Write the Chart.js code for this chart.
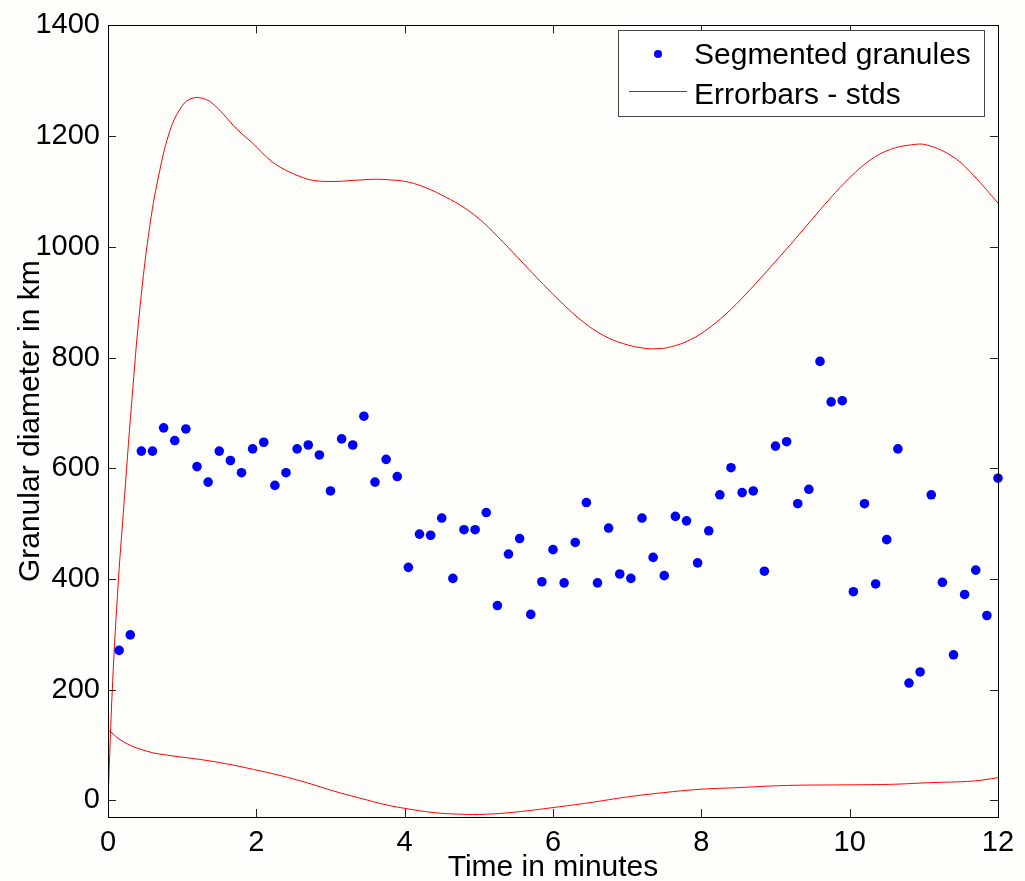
<!DOCTYPE html>
<html>
<head>
<meta charset="utf-8">
<title>Granular diameter</title>
<script src="https://cdn.jsdelivr.net/npm/chart.js@4.4.1/dist/chart.umd.min.js"></script>
<style>
  html, body { margin: 0; padding: 0; background: #fefefb; }
  #wrap { width: 1025px; height: 881px; position: relative; }
</style>
</head>
<body>
<div id="wrap"><canvas id="granChart" width="1025" height="881"></canvas></div>
<script>
// ── Data ─────────────────────────────────────────────────────
const timeMinutes = [
  0.15, 0.30, 0.45, 0.60, 0.75, 0.90, 1.05, 1.20, 1.35, 1.50,
  1.65, 1.80, 1.95, 2.10, 2.25, 2.40, 2.55, 2.70, 2.85, 3.00,
  3.15, 3.30, 3.45, 3.60, 3.75, 3.90, 4.05, 4.20, 4.35, 4.50,
  4.65, 4.80, 4.95, 5.10, 5.25, 5.40, 5.55, 5.70, 5.85, 6.00,
  6.15, 6.30, 6.45, 6.60, 6.75, 6.90, 7.05, 7.20, 7.35, 7.50,
  7.65, 7.80, 7.95, 8.10, 8.25, 8.40, 8.55, 8.70, 8.85, 9.00,
  9.15, 9.30, 9.45, 9.60, 9.75, 9.90, 10.05, 10.20, 10.35, 10.50,
  10.65, 10.80, 10.95, 11.10, 11.25, 11.40, 11.55, 11.70, 11.85, 12.00
];
const diameters = [
  271, 299, 631, 631, 673, 650, 671, 603, 575, 631,
  614, 592, 635, 647, 569, 592, 635, 642, 624, 559,
  653, 642, 694, 575, 616, 585, 421, 481, 479, 510,
  401, 489, 489, 520, 352, 445, 473, 336, 395, 453,
  393, 466, 538, 393, 492, 409, 401, 510, 439, 406,
  513, 505, 429, 487, 552, 601, 556, 559, 414, 640,
  648, 536, 562, 793, 720, 722, 377, 536, 391, 471,
  635, 212, 232, 552, 394, 263, 372, 416, 334, 582
];

// upper / lower std envelope
const upperT = [0, 0.063, 0.139, 0.207, 0.32, 0.431, 0.566, 0.701, 0.836, 0.971,
  1.106, 1.285, 1.443, 1.735, 1.96, 2.14, 2.32, 2.59, 2.77, 3.04,
  3.31, 3.58, 3.80, 4.05, 4.30, 4.55, 4.80, 5.06, 5.33, 5.60,
  5.87, 6.14, 6.41, 6.68, 6.95, 7.22, 7.40, 7.58, 7.85, 8.12,
  8.39, 8.66, 8.93, 9.20, 9.47, 9.74, 10.01, 10.28, 10.55, 10.82,
  11.04, 11.40, 11.67, 12.0];
const upperV = [0, 215, 395, 520, 720, 890, 1040, 1140, 1210, 1249,
  1267, 1268, 1255, 1213, 1186, 1162, 1144, 1127, 1120, 1118,
  1120, 1122, 1121, 1117, 1106, 1090, 1071, 1044, 1008, 970,
  932, 896, 864, 840, 825, 817, 816, 819, 832, 855,
  886, 923, 963, 1004, 1046, 1088, 1126, 1157, 1176, 1184,
  1184, 1162, 1129, 1079];

const lowerT = [0, 0.206, 0.52, 0.836, 1.24, 1.60, 1.96, 2.32, 2.68, 3.04,
  3.40, 3.75, 4.03, 4.39, 4.75, 5.10, 5.50, 6.0, 6.50, 6.99,
  7.49, 7.98, 8.48, 9.15, 9.87, 10.54, 11.08, 11.67, 12.0];
const lowerV = [128, 106, 89, 81, 74, 66, 56, 45, 32, 17,
  4, -8, -15, -22, -25, -25, -21, -13, -4, 6,
  14, 20, 23, 27, 28, 29, 32, 35, 41];

const xTicks = [0, 2, 4, 6, 8, 10, 12];
const yTicks = [0, 200, 400, 600, 800, 1000, 1200, 1400];

const seriesLabels = ['Segmented granules', 'Errorbars - stds'];

const FONT = '"Liberation Sans", Arial, sans-serif';

// ── Helpers ──────────────────────────────────────────────────
const toPoints = (xs, ys) => xs.map((x, i) => ({ x, y: ys[i] }));

// ── Inward ticks + box frame (MATLAB look) ───────────────────
const frameTicks = {
  id: 'frameTicks',
  afterDatasetsDraw(chart) {
    const { ctx, chartArea: a, scales } = chart;
    const len = 8;
    ctx.save();
    ctx.strokeStyle = '#222';
    ctx.lineWidth = 1;
    ctx.beginPath();
    xTicks.forEach(v => {
      const px = Math.round(scales.x.getPixelForValue(v)) + 0.5;
      ctx.moveTo(px, a.bottom); ctx.lineTo(px, a.bottom - len);
      ctx.moveTo(px, a.top);    ctx.lineTo(px, a.top + len);
    });
    yTicks.forEach(v => {
      const py = Math.round(scales.y.getPixelForValue(v)) + 0.5;
      ctx.moveTo(a.left, py);  ctx.lineTo(a.left + len, py);
      ctx.moveTo(a.right, py); ctx.lineTo(a.right - len, py);
    });
    ctx.stroke();
    ctx.strokeStyle = '#000';
    ctx.strokeRect(Math.round(a.left) + 0.5, Math.round(a.top) + 0.5,
                   Math.round(a.right - a.left), Math.round(a.bottom - a.top));
    ctx.restore();
  }
};

// ── Boxed legend in the upper-right corner ───────────────────
const boxLegend = {
  id: 'boxLegend',
  afterDraw(chart) {
    const { ctx } = chart;
    const bx = 618, by = 30, bw = 366, bh = 86;
    ctx.save();
    ctx.fillStyle = '#ffffff';
    ctx.fillRect(bx, by, bw, bh);
    ctx.strokeStyle = '#444';
    ctx.lineWidth = 1;
    ctx.strokeRect(bx + 0.5, by + 0.5, bw, bh);

    ctx.fillStyle = '#0000ff';
    ctx.beginPath();
    ctx.arc(658, 54, 4, 0, Math.PI * 2);
    ctx.fill();

    ctx.strokeStyle = '#ff0000';
    ctx.beginPath();
    ctx.moveTo(629, 91.5); ctx.lineTo(687, 91.5);
    ctx.stroke();

    ctx.fillStyle = '#000';
    ctx.font = '30px ' + FONT;
    ctx.textBaseline = 'alphabetic';
    ctx.textAlign = 'left';
    ctx.fillText(seriesLabels[0], 694, 64);
    ctx.fillText(seriesLabels[1], 694, 104);
    ctx.restore();
  }
};

const ctx = document.getElementById('granChart').getContext('2d');

new Chart(ctx, {
  type: 'scatter',
  data: {
    datasets: [
      {
        label: seriesLabels[0],
        data: toPoints(timeMinutes, diameters),
        backgroundColor: '#0000ff',
        borderWidth: 0,
        pointRadius: 4.8,
        pointHoverRadius: 4.8,
        clip: false
      },
      {
        label: seriesLabels[1],
        data: toPoints(upperT, upperV),
        showLine: true,
        borderColor: '#ff0000',
        borderWidth: 1,
        pointRadius: 0,
        tension: 0.4
      },
      {
        label: seriesLabels[1] + ' (lower)',
        data: toPoints(lowerT, lowerV),
        showLine: true,
        borderColor: '#ff0000',
        borderWidth: 1,
        pointRadius: 0,
        tension: 0.4
      }
    ]
  },
  options: {
    responsive: false,
    animation: false,
    layout: { padding: { top: 22, right: 27, left: 0, bottom: 0 } },
    plugins: {
      legend: { display: false },
      tooltip: { enabled: false }
    },
    scales: {
      x: {
        type: 'linear',
        min: 0,
        max: 12,
        afterBuildTicks: s => { s.ticks = xTicks.map(v => ({ value: v })); },
        afterFit: s => { s.height = 64; },
        grid: { display: false, drawTicks: false },
        border: { display: false },
        ticks: {
          padding: 9,
          color: '#000',
          font: { family: FONT, size: 29, lineHeight: 1.2 },
          maxRotation: 0,
          callback: v => String(v)
        },
        title: {
          display: true,
          text: 'Time in minutes',
          color: '#000',
          font: { family: FONT, size: 30, lineHeight: 1 },
          padding: { top: 0, bottom: -2 }
        }
      },
      y: {
        type: 'linear',
        min: -30,
        max: 1400,
        afterBuildTicks: s => { s.ticks = yTicks.map(v => ({ value: v })); },
        afterFit: s => { s.width = 108; },
        grid: { display: false, drawTicks: false },
        border: { display: false },
        ticks: {
          padding: 8,
          color: '#000',
          font: { family: FONT, size: 29, lineHeight: 1.2 },
          callback: v => String(v)
        },
        title: {
          display: true,
          text: 'Granular diameter in km',
          color: '#000',
          font: { family: FONT, size: 30, lineHeight: 1 },
          padding: { top: 16, bottom: 0 }
        }
      }
    }
  },
  plugins: [frameTicks, boxLegend]
});
</script>
</body>
</html>
